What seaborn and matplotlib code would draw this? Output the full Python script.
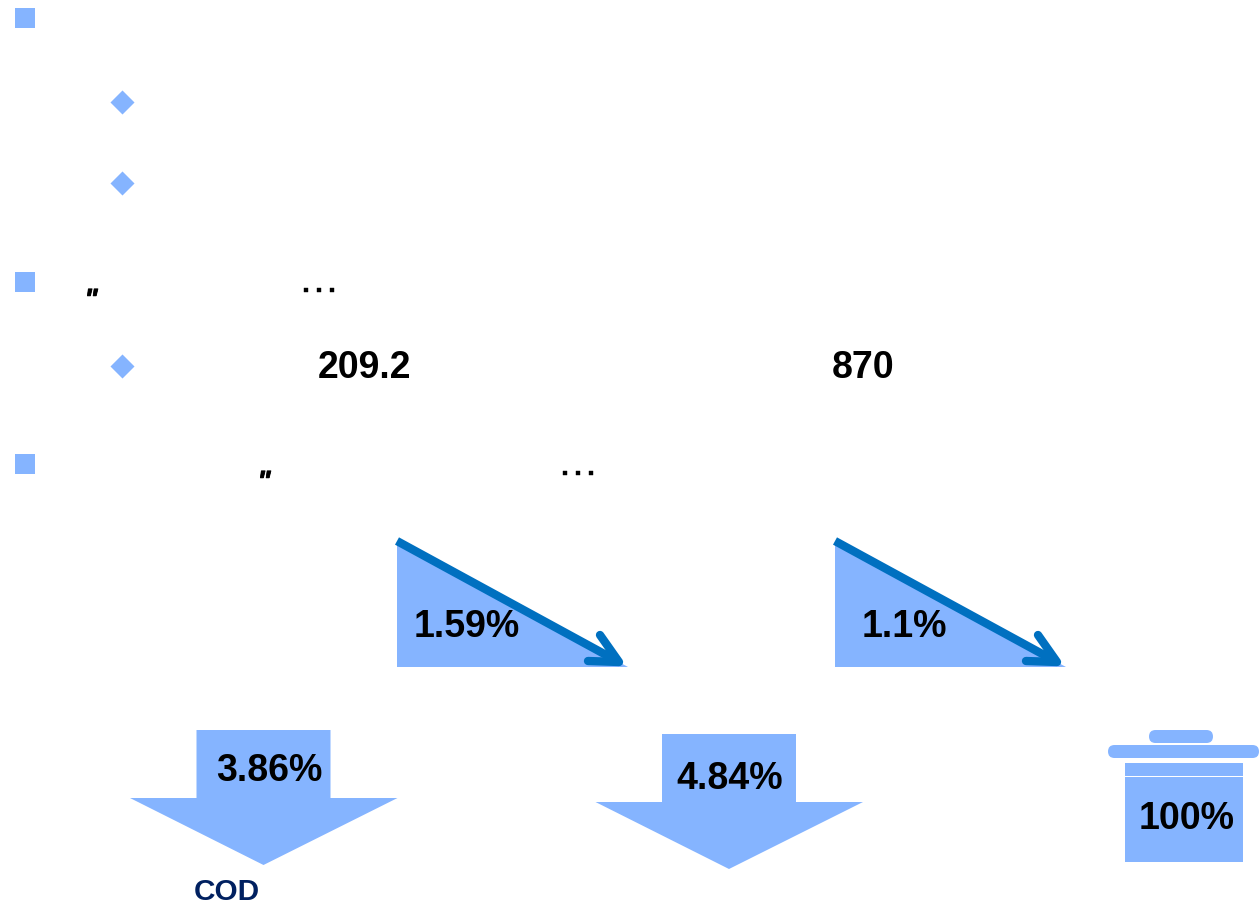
import matplotlib
matplotlib.use("Agg")
import matplotlib.pyplot as plt
import matplotlib.patheffects as pe
from matplotlib.patches import Polygon, Rectangle, FancyBboxPatch
import pandas as pd
import seaborn as sns

sns.set_theme(style="white")
plt.rcParams['font.family'] = ['Liberation Sans', 'DejaVu Sans']

# Text that survives on the slide
percent_labels = ["1.59%", "1.1%", "3.86%", "4.84%", "100%"]
big_numbers = ["209.2", "870"]
pollutant_label = "COD"

# Bullets, in slide pixels
square_x = [25, 25, 25]
square_y = [18, 282, 464]
diamond_x = [122, 122, 122]
diamond_y = [102, 183, 366]

BLUE = "#85B4FF"
ARROW = "#0070C0"
NAVY = "#002060"

fig = plt.figure(figsize=(12.6, 9.09), dpi=100)
ax = fig.add_axes([0, 0, 1, 1])

# bullets
squares = pd.DataFrame({"x": square_x, "y": square_y})
diamonds = pd.DataFrame({"x": diamond_x, "y": diamond_y})
sns.scatterplot(data=squares, x="x", y="y", marker="s", s=207, color=BLUE, linewidth=0, ax=ax)
sns.scatterplot(data=diamonds, x="x", y="y", marker="D", s=150, color=BLUE, linewidth=0, ax=ax)
ax.set_xlim(0, 1260)
ax.set_ylim(909, 0)
ax.axis("off")


def falling_triangle(x0):
    ax.add_patch(Polygon([(x0, 541), (x0 + 231, 667), (x0, 667)], color=BLUE, lw=0))
    tip = (x0 + 222, 662)
    ax.plot([x0, tip[0]], [541, tip[1]], color=ARROW, lw=6, solid_capstyle="butt")
    ax.plot([x0 + 203, tip[0], x0 + 191], [635, tip[1], 661], color=ARROW, lw=6,
            solid_capstyle="round", solid_joinstyle="round")


def down_arrow(x0, top):
    ax.add_patch(Polygon([(x0 + 66.5, top), (x0 + 200.5, top), (x0 + 200.5, top + 68),
                          (x0 + 267.5, top + 68), (x0 + 133.5, top + 135),
                          (x0, top + 68), (x0 + 66.5, top + 68)], color=BLUE, lw=0))


def pill(x0, y0, x1, y1):
    r = (y1 - y0) / 2
    ax.add_patch(FancyBboxPatch((x0 + r, y0 + r), x1 - x0 - 2 * r, 0.01,
                                boxstyle=f"round,pad={r - 0.01},rounding_size={r}",
                                color=BLUE, lw=0))


falling_triangle(397)
falling_triangle(835)
down_arrow(130, 730)
down_arrow(595.5, 734)

# the pot on the right
pill(1149, 730, 1213, 743)
pill(1108, 745, 1259, 758)
ax.add_patch(Rectangle((1125, 763), 118, 13, color=BLUE, lw=0))
ax.add_patch(Rectangle((1125, 777), 118, 85, color=BLUE, lw=0))

# labels
percent_pos = [(414, 637), (862, 637), (216, 781), (676, 789), (1139, 829)]
for label, (x, y) in zip(percent_labels, percent_pos):
    ax.text(x, y, label, fontsize=27, fontweight="bold", color="black", va="baseline", ha="left")

for label, (x, y) in zip(big_numbers, [(318, 378), (832, 378)]):
    ax.text(x, y, label, fontsize=27, fontweight="bold", color="black", va="baseline", ha="left")

ax.text(194, 900, pollutant_label, fontsize=21.4, fontweight="bold", color=NAVY, va="baseline", ha="left")

# leftover punctuation from the body text
for x, y in [(91, 308), (264, 490)]:
    ax.text(x, y, "\"", fontsize=20, fontweight="bold", style="italic", color="black", va="baseline", ha="center",
            path_effects=[pe.withStroke(linewidth=0.6, foreground="black")])
for x, y in [(319, 292), (578, 475)]:
    ax.text(x, y, "\u2026", fontsize=29, color="black", va="baseline", ha="center",
            path_effects=[pe.withStroke(linewidth=0.3, foreground="black")])

fig.savefig("out.png", dpi=100, facecolor="white")
